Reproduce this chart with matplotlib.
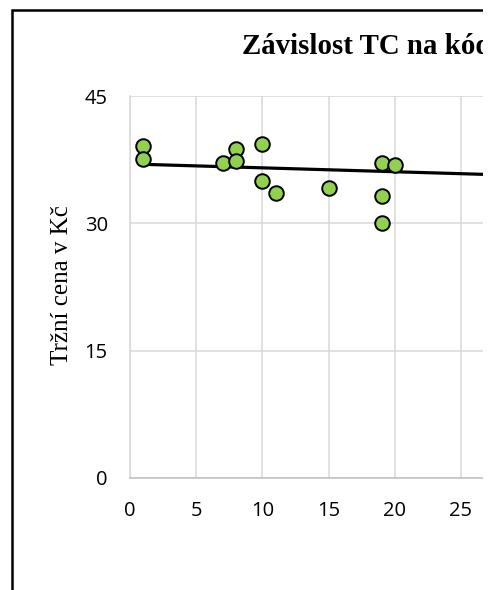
import numpy as np
import matplotlib.pyplot as plt
from matplotlib.patches import Rectangle

# values
kod = [1, 1, 7, 8, 8, 10, 10, 11, 15, 19, 20, 19, 19]
cena = [39.1, 37.6, 37.1, 38.8, 37.3, 39.4, 35.0, 33.6, 34.2, 37.1, 36.9, 33.2, 30.0]
trend_slope = -0.046
trend_intercept = 37.0
x_ticks = [0, 5, 10, 15, 20, 25]
y_ticks = [0, 15, 30, 45]

W, H = 493, 590
fig = plt.figure(figsize=(W / 100, H / 100), dpi=100)

# plot area in pixels
px_left, px_right = 130, 483
px_bottom, px_top = 477.7, 96.1
ax = fig.add_axes([px_left / W, 1 - px_bottom / H,
                   (px_right - px_left) / W, (px_bottom - px_top) / H])

xmax = (px_right - px_left) / 13.24
ax.set_xlim(0, xmax)
ax.set_ylim(0, 45)
ax.set_xticks(x_ticks)
ax.set_yticks(y_ticks)
ax.grid(True, color='#d9d9d9', lw=1.1)
ax.set_axisbelow(True)
for s in ['top', 'right']:
    ax.spines[s].set_visible(False)
ax.spines['left'].set_color('#d9d9d9')
ax.spines['left'].set_linewidth(1.1)
ax.spines['bottom'].set_color('#bfbfbf')
ax.spines['bottom'].set_linewidth(1.1)
ax.tick_params(length=0, labelsize=14.5, colors='black')
ax.tick_params(axis='y', pad=16)
ax.tick_params(axis='x', pad=17)
for lab in ax.get_xticklabels() + ax.get_yticklabels():
    lab.set_fontfamily('Open Sans')

ax.scatter(kod, cena, s=110, color='#92d050', edgecolor='black', linewidth=1.4, zorder=3)
tx = np.array([min(kod), 40])
ax.plot(tx, trend_intercept + trend_slope * tx, color='black', lw=2.3, zorder=2)

fig.text(62 / W, 1 - 285 / H, 'Tržní cena v Kč', family='Liberation Serif', fontsize=18,
         rotation=90, ha='center', va='center')

# title is cut off in the original picture
fig.text(242 / W, 1 - 47 / H, 'Závislost TC na kódu', family='Liberation Serif',
         fontweight='bold', fontsize=20.8, ha='left', va='center')

# chart border (cropped)
fig.patches.append(Rectangle((11.5 / W, -0.2), 2, 1.2 - 10 / H, transform=fig.transFigure,
                             fill=False, edgecolor='black', lw=1.8, zorder=5))
# white strip where the original is cut off
fig.patches.append(Rectangle((px_right / W, 0), 1, 1, transform=fig.transFigure,
                             facecolor='white', edgecolor='none', zorder=10))

fig.savefig('out.png', dpi=100)
